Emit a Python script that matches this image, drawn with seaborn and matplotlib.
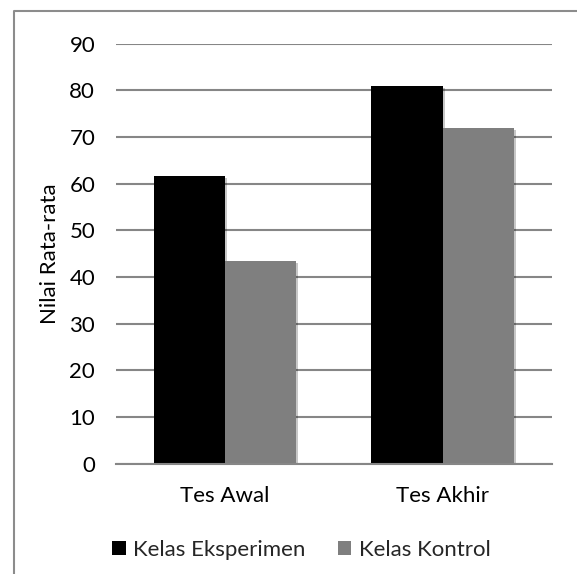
import matplotlib
matplotlib.use("Agg")
import matplotlib.pyplot as plt
import matplotlib.patheffects as pe
from matplotlib.lines import Line2D
from matplotlib.patches import Patch
import pandas as pd
import seaborn as sns

# Mean scores per test and class
tests = ["Tes Awal", "Tes Akhir"]
groups = ["Kelas Eksperimen", "Kelas Kontrol"]
eksperimen = [61.7, 81.0]
kontrol = [43.4, 71.9]
y_ticks = [0, 10, 20, 30, 40, 50, 60, 70, 80, 90]
colors = ["#000000", "#7f7f7f"]

df = pd.DataFrame({
    "Tes": tests * 2,
    "Kelas": [groups[0]] * len(tests) + [groups[1]] * len(tests),
    "Nilai": eksperimen + kontrol,
})

sns.set_theme(style="white")
plt.rcParams["font.family"] = ["Lato", "DejaVu Sans"]

W, H, DPI = 577, 574, 100
fig = plt.figure(figsize=(W / DPI, H / DPI), dpi=DPI)
ax = fig.add_axes([116 / W, 1 - 463.7 / H, (551.7 - 116) / W, (463.7 - 43.7) / H])

grid_col = "#868686"
fs = 16

sns.barplot(data=df, x="Tes", y="Nilai", hue="Kelas", order=tests, hue_order=groups,
            palette=colors, width=0.655, saturation=1,
            edgecolor="none", ax=ax, zorder=3, legend=False)

for bar in ax.patches:
    bar.set_path_effects([pe.SimplePatchShadow(offset=(1.5, -1.5), shadow_rgbFace="#000000",
                                               alpha=0.22), pe.Normal()])

ax.set_ylim(0, 90)
ax.set_xlim(-0.5, 1.5)
ax.set_yticks(y_ticks)
ax.set_yticklabels([str(v) for v in y_ticks])
ax.yaxis.grid(True, color=grid_col, linewidth=1.5, zorder=0)
ax.set_axisbelow(True)
for side in ["top", "right", "left"]:
    ax.spines[side].set_visible(False)
ax.spines["bottom"].set_color(grid_col)
ax.spines["bottom"].set_linewidth(1.5)
ax.spines["bottom"].set_zorder(4)

ax.tick_params(axis="y", length=0, pad=15, labelsize=fs, labelcolor="#000000")
ax.tick_params(axis="x", length=0, pad=16, labelsize=fs, labelcolor="#000000")
ax.set_xlabel("")
ax.set_ylabel("Nilai Rata-rata", fontsize=fs, color="#000000", labelpad=7)

handles = [Patch(facecolor=c, edgecolor="none") for c in colors]
fig.legend(handles, groups, loc="center", bbox_to_anchor=(301.5 / W, 1 - 549.5 / H),
           ncol=2, frameon=False, fontsize=fs, handlelength=0.6, handleheight=0.6,
           handletextpad=0.35, columnspacing=1.45, borderaxespad=0, borderpad=0)

# chart frame (left and top edges)
frame = Line2D([14 / W, 14 / W, 1.01], [-0.01, 1 - 11 / H, 1 - 11 / H],
               transform=fig.transFigure, color="#8c8c8c", linewidth=1.5)
fig.add_artist(frame)

fig.savefig("out.png", dpi=DPI, facecolor="white")
